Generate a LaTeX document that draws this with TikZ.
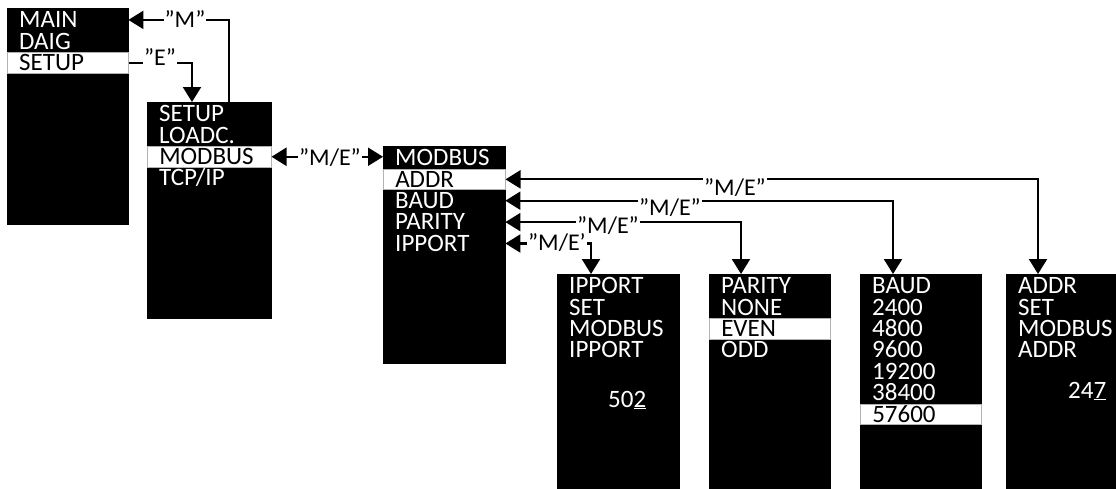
\documentclass[tikz,border=0pt]{standalone}
\usepackage{fontspec}
\setmainfont{Carlito}
\usetikzlibrary{arrows.meta,calc}
\begin{document}
\begin{tikzpicture}[x=1pt,y=-1pt,
  >={Triangle[length=15pt,width=18pt]},
  menubox/.style={fill=black, draw=black, anchor=north west, inner sep=0pt},
  row/.style={anchor=north west, inner xsep=12pt, inner ysep=0pt, text width=#1, align=left,
    text height=18pt, text depth=2.4pt, text=white, font=\fontsize{25}{25}\selectfont},
  sel/.style={row=#1, fill=white, text=black, draw=gray!60, line width=0.5pt},
  conn/.style={line width=2.2pt},
  lbl/.style={fill=white, inner xsep=1pt, inner ysep=0pt, text height=18pt, text depth=0pt,
    font=\fontsize{24}{24}\selectfont},
  num/.style={anchor=base west, inner sep=0pt, text=white, font=\fontsize{25}{25}\selectfont}]
\useasboundingbox (0,0) rectangle (1116,488);

% Box 1: main menu
\node[menubox, minimum width=121pt, minimum height=216pt] (b1) at (7,8) {};
\node[row=97pt] (b1r0) at (7,9.5) {MAIN};
\node[row=97pt] (b1r1) at (7,30.9) {DAIG};
\node[sel=97pt] (b1r2) at (7,52.3) {SETUP};

% Box 2: setup menu
\node[menubox, minimum width=124pt, minimum height=216pt] (b2) at (147,102) {};
\node[row=100pt] (b2r0) at (147,103.5) {SETUP};
\node[row=100pt] (b2r1) at (147,124.9) {LOADC.};
\node[sel=100pt] (b2r2) at (147,146.3) {MODBUS};
\node[row=100pt] (b2r3) at (147,167.7) {TCP/IP};

% Box 3: modbus menu
\node[menubox, minimum width=122pt, minimum height=217pt] (b3) at (383,146) {};
\node[row=98pt] (b3r0) at (383,147.5) {MODBUS};
\node[sel=98pt] (b3r1) at (383,168.9) {ADDR};
\node[row=98pt] (b3r2) at (383,190.3) {BAUD};
\node[row=98pt] (b3r3) at (383,211.7) {PARITY};
\node[row=98pt] (b3r4) at (383,233.1) {IPPORT};

% Box 4: IPPORT
\node[menubox, minimum width=122pt, minimum height=215pt] (b4) at (557,274) {};
\node[row=98pt] (b4r0) at (557,275.5) {IPPORT};
\node[row=98pt] (b4r1) at (557,296.9) {SET};
\node[row=98pt] (b4r2) at (557,318.3) {MODBUS};
\node[row=98pt] (b4r3) at (557,339.7) {IPPORT};
\node[num] (n502) at (608,407) {50\underline{2}};

% Box 5: PARITY
\node[menubox, minimum width=121pt, minimum height=215pt] (b5) at (709,274) {};
\node[row=97pt] (b5r0) at (709,275.5) {PARITY};
\node[row=97pt] (b5r1) at (709,296.9) {NONE};
\node[sel=97pt] (b5r2) at (709,318.3) {EVEN};
\node[row=97pt] (b5r3) at (709,339.7) {ODD};

% Box 6: BAUD
\node[menubox, minimum width=121pt, minimum height=215pt] (b6) at (860,274) {};
\node[row=97pt] (b6r0) at (860,275.5) {BAUD};
\node[row=97pt] (b6r1) at (860,296.9) {2400};
\node[row=97pt] (b6r2) at (860,318.3) {4800};
\node[row=97pt] (b6r3) at (860,339.7) {9600};
\node[row=97pt] (b6r4) at (860,361.1) {19200};
\node[row=97pt] (b6r5) at (860,382.5) {38400};
\node[sel=97pt] (b6r6) at (860,403.9) {57600};

% Box 7: ADDR
\node[menubox, minimum width=122pt, minimum height=215pt] (b7) at (1006,274) {};
\node[row=98pt] (b7r0) at (1006,275.5) {ADDR};
\node[row=98pt] (b7r1) at (1006,296.9) {SET};
\node[row=98pt] (b7r2) at (1006,318.3) {MODBUS};
\node[row=98pt] (b7r3) at (1006,339.7) {ADDR};
\node[num] (n247) at (1068,398) {24\underline{7}};

% Connectors
\draw[conn,->] ($(b2.north west)+(82,0)$) |- (b1r0.east);
\draw[conn,->] (b1r2.east) -| ($(b2.north west)+(45,0)$);
\draw[conn,<->] (b2r2.east) -- (b2r2.east -| b3.west);
\draw[conn,<->] ($(b7.north west)+(32,0)$) |- (b3r1.east);
\draw[conn,<->] ($(b6.north west)+(33,0)$) |- (b3r2.east);
\draw[conn,<->] ($(b5.north west)+(32,0)$) |- (b3r3.east);
\draw[conn,<->] ($(b4.north west)+(34,0)$) |- (b3r4.east);

% Connector labels
\node[lbl, anchor=base] (lm) at (185,27) {”M”};
\node[lbl, anchor=base] (le) at (160,65) {”E”};
\node[lbl, anchor=base] (lmb) at (330,165) {”M/E”};
\node[lbl, anchor=base] (la) at (735,195) {”M/E”};
\node[lbl, anchor=base] (lb) at (670,215) {”M/E”};
\node[lbl, anchor=base] (lp) at (608,233) {”M/E”};
\node[lbl, anchor=base west] (li) at (527,250) {”M/E’};
\end{tikzpicture}
\end{document}
